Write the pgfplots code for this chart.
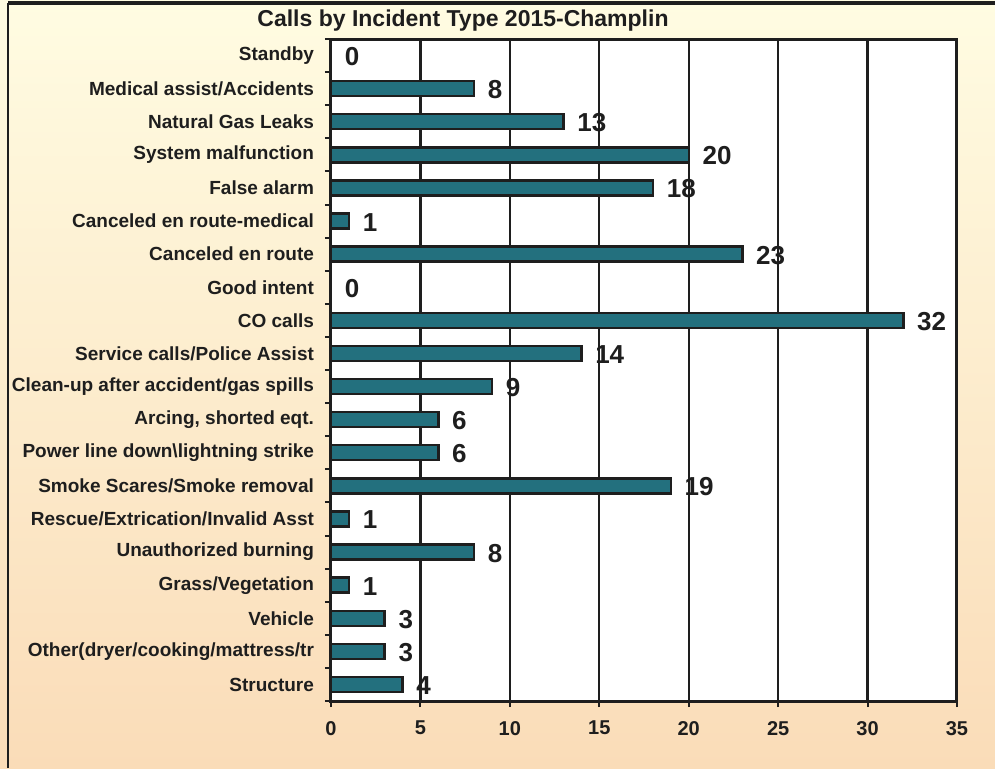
\documentclass[border=0pt]{standalone}
\usepackage{fontspec}
\setmainfont{Liberation Sans}
\usepackage{pgfplots}
\pgfplotsset{compat=1.18}
\definecolor{barteal}{HTML}{23707E}
\definecolor{bgtop}{HTML}{FFFCE2}
\definecolor{bgmid}{HTML}{FEF2D0}
\definecolor{bgbot}{HTML}{FADCB8}
\definecolor{ink}{HTML}{1E1E1E}
\begin{document}
\begin{tikzpicture}
\shade[top color=bgtop, middle color=bgmid, bottom color=bgbot] (0,0) rectangle (497.5pt,384pt);
\draw[line width=2pt, ink] (4pt,382.5pt) -- (497.5pt,382.5pt);
\draw[line width=1pt, ink] (4pt,0) -- (4pt,382.5pt);
\node[font=\fontsize{11.5}{11.5}\selectfont\bfseries, text=ink] at (231.5pt,373.5pt) {Calls by Incident Type 2015-Champlin};
\begin{axis}[at={(165.5pt,33.5pt)}, anchor=south west, scale only axis,
  width=313pt, height=331pt,
  xmin=0, xmax=35, ymin=-0.5, ymax=19.5, y dir=reverse,
  xtick={0,5,...,35},
  ytick={-0.5,0.5,...,19.5}, y tick label as interval,
  yticklabels={Standby, Medical assist/Accidents, Natural Gas Leaks, System malfunction, False alarm, Canceled en route-medical, Canceled en route, Good intent, CO calls, Service calls/Police Assist, Clean-up after accident/gas spills, {Arcing, shorted eqt.}, Power line down\textbackslash lightning strike, Smoke Scares/Smoke removal, Rescue/Extrication/Invalid Asst, Unauthorized burning, Grass/Vegetation, Vehicle, Other(dryer/cooking/mattress/tr, Structure},
  axis background/.style={fill=white},
  axis line style={line width=1.5pt, ink},
  xmajorgrids, grid style={line width=1.2pt, ink},
  tick pos=left,
  tick align=outside, major tick length=3pt, tick style={line width=1pt, ink},
  /pgf/number format/assume math mode=true,
  ticklabel style={text=ink},
  yticklabel style={font=\fontsize{9.5}{9.5}\selectfont\bfseries, xshift=-2pt},
  xticklabel style={font=\fontsize{10}{10}\selectfont\bfseries, yshift=-3.5pt},
  xbar, bar width=7.5pt,
  nodes near coords,
  nodes near coords style={font=\fontsize{13}{13}\selectfont\bfseries, text=ink, anchor=west, xshift=3pt, yshift=-0.5pt},
  clip=false]
\addplot[fill=barteal, draw=ink, line width=1.2pt] coordinates {
(0,0) (8,1) (13,2) (20,3) (18,4) (1,5) (23,6) (0,7) (32,8) (14,9)
(9,10) (6,11) (6,12) (19,13) (1,14) (8,15) (1,16) (3,17) (3,18) (4,19)};
\end{axis}
\pgfresetboundingbox
\path[use as bounding box] (0,0) rectangle (497.5pt,384pt);
\end{tikzpicture}
\end{document}
